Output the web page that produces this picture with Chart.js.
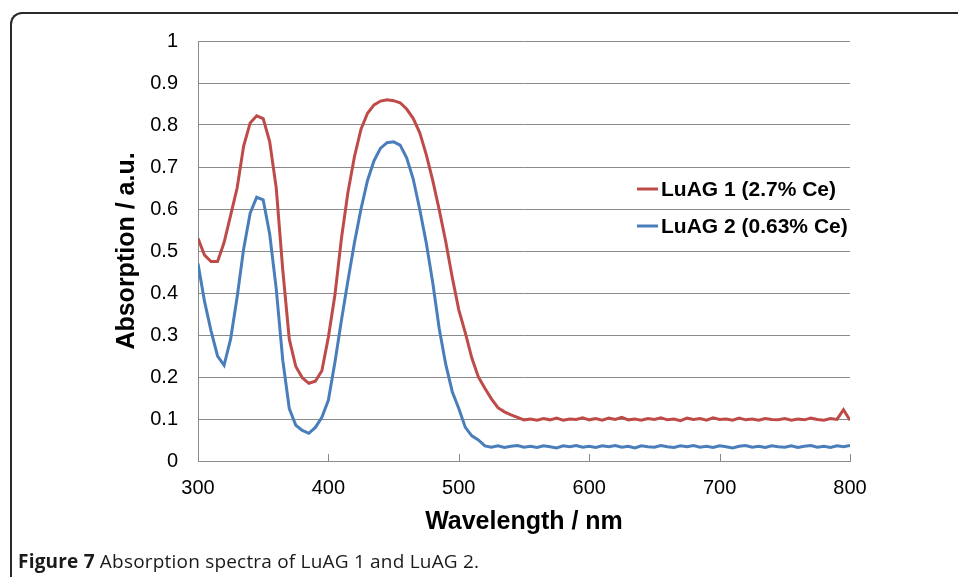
<!DOCTYPE html>
<html lang="en">
<head>
    <meta charset="UTF-8">
    <title>Absorption spectra of LuAG 1 and LuAG 2</title>
    <script src="https://cdn.jsdelivr.net/npm/chart.js"></script>
    <style>
        body {
            margin: 0;
            background: #fff;
            font-family: Arial, "Liberation Sans", sans-serif;
        }

        #wrap {
            position: relative;
            width: 958px;
            height: 577px;
            overflow: hidden;
        }

        #frame {
            position: absolute;
            left: 10px;
            top: 12px;
            width: 980px;
            height: 600px;
            border-top: 2px solid #2a2a2a;
            border-left: 2px solid #2a2a2a;
            border-top-left-radius: 12px;
        }

        #myChart {
            position: absolute;
            left: 0;
            top: 0;
        }

        #caption {
            position: absolute;
            left: 18px;
            top: 548px;
            font-family: "Open Sans", "Noto Sans", sans-serif;
            font-size: 19px;
            letter-spacing: 0.2px;
            color: #1a1a1a;
            white-space: nowrap;
        }
    </style>
</head>
<body>

    <div id="wrap">
        <div id="frame"></div>
        <canvas id="myChart" width="958" height="577"></canvas>
        <div id="caption"><b>Figure 7</b> Absorption spectra of LuAG 1 and LuAG 2.</div>
    </div>

    <script>
        // wavelength in nm
        const wavelengths = [
            300, 305, 310, 315, 320, 325, 330, 335, 340, 345,
            350, 355, 360, 365, 370, 375, 380, 385, 390, 395,
            400, 405, 410, 415, 420, 425, 430, 435, 440, 445,
            450, 455, 460, 465, 470, 475, 480, 485, 490, 495,
            500, 505, 510, 515, 520, 525, 530, 535, 540, 545,
            550, 555, 560, 565, 570, 575, 580, 585, 590, 595,
            600, 605, 610, 615, 620, 625, 630, 635, 640, 645,
            650, 655, 660, 665, 670, 675, 680, 685, 690, 695,
            700, 705, 710, 715, 720, 725, 730, 735, 740, 745,
            750, 755, 760, 765, 770, 775, 780, 785, 790, 795,
            800
        ];

        // LuAG 1 (2.7% Ce)
        const luag1 = [
            0.53, 0.49, 0.475, 0.475, 0.52, 0.585, 0.65, 0.75, 0.805, 0.822,
            0.815, 0.76, 0.65, 0.455, 0.29, 0.225, 0.198, 0.185, 0.19, 0.215,
            0.295, 0.395, 0.53, 0.64, 0.725, 0.79, 0.828, 0.848, 0.857, 0.86,
            0.858, 0.853, 0.838, 0.816, 0.782, 0.73, 0.668, 0.598, 0.522, 0.437,
            0.36, 0.305, 0.245, 0.2, 0.173, 0.148, 0.127, 0.117, 0.11, 0.104,
            0.098, 0.1, 0.097, 0.101, 0.098, 0.102, 0.097, 0.1, 0.099, 0.103,
            0.098, 0.101, 0.097, 0.102, 0.099, 0.104, 0.098, 0.1, 0.097, 0.101,
            0.099, 0.103, 0.098, 0.1, 0.096, 0.102, 0.099, 0.101, 0.097, 0.103,
            0.099, 0.1, 0.097, 0.102, 0.098, 0.1, 0.097, 0.101, 0.099, 0.098,
            0.101, 0.097, 0.1, 0.098, 0.102, 0.099, 0.097, 0.101, 0.099, 0.122,
            0.097
        ];

        // LuAG 2 (0.63% Ce)
        const luag2 = [
            0.47, 0.38, 0.31, 0.25, 0.228, 0.29, 0.39, 0.505, 0.59, 0.628,
            0.622, 0.54, 0.41, 0.24, 0.125, 0.085, 0.073, 0.066, 0.08, 0.104,
            0.145, 0.235, 0.335, 0.43, 0.52, 0.6, 0.668, 0.715, 0.745, 0.758,
            0.76, 0.752, 0.722, 0.672, 0.6, 0.52, 0.425, 0.315, 0.23, 0.165,
            0.125, 0.08, 0.06, 0.05, 0.036, 0.033, 0.036, 0.032, 0.035, 0.037,
            0.033, 0.035, 0.032, 0.036, 0.034, 0.031, 0.036, 0.034, 0.037, 0.033,
            0.035, 0.032, 0.036, 0.034, 0.037, 0.033, 0.035, 0.031, 0.036, 0.034,
            0.033, 0.037, 0.034, 0.032, 0.036, 0.034, 0.037, 0.033, 0.035, 0.032,
            0.036, 0.034, 0.031, 0.035, 0.037, 0.033, 0.035, 0.032, 0.036, 0.034,
            0.033, 0.036, 0.032, 0.035, 0.037, 0.033, 0.035, 0.032, 0.036, 0.034,
            0.037
        ];

        const seriesNames = ['LuAG 1 (2.7% Ce)', 'LuAG 2 (0.63% Ce)'];
        const seriesColors = ['#BE4B48', '#4A7EBB'];
        const xTicks = [300, 400, 500, 600, 700, 800];

        const gridColor = '#8a8a8a';

        function toPoints(values) {
            return values.map((v, i) => ({ x: wavelengths[i], y: v }));
        }

        // Excel style tick marks pointing up into the plot
        const innerTicks = {
            id: 'innerTicks',
            afterDraw(chart) {
                const ctx = chart.ctx;
                const xs = chart.scales.x;
                const bottom = chart.chartArea.bottom;
                ctx.save();
                ctx.strokeStyle = gridColor;
                ctx.lineWidth = 1;
                xs.ticks.forEach(t => {
                    const px = Math.round(xs.getPixelForValue(t.value)) + 0.5;
                    ctx.beginPath();
                    ctx.moveTo(px, bottom);
                    ctx.lineTo(px, bottom - 7);
                    ctx.stroke();
                });
                ctx.restore();
            }
        };

        // legend drawn inside the plot on the right
        const insideLegend = {
            id: 'insideLegend',
            afterDraw(chart) {
                const ctx = chart.ctx;
                const area = chart.chartArea;
                const x0 = area.right - 213;
                const y0 = area.top + 148;
                ctx.save();
                ctx.font = 'bold 21px Arial, "Liberation Sans", sans-serif';
                ctx.textBaseline = 'middle';
                ctx.textAlign = 'left';
                chart.data.datasets.forEach((ds, i) => {
                    const y = y0 + i * 37;
                    ctx.strokeStyle = ds.borderColor;
                    ctx.lineWidth = 3;
                    ctx.beginPath();
                    ctx.moveTo(x0, y);
                    ctx.lineTo(x0 + 21, y);
                    ctx.stroke();
                    ctx.fillStyle = '#000';
                    ctx.fillText(ds.label, x0 + 24, y + 1);
                });
                ctx.restore();
            }
        };

        const ctx = document.getElementById('myChart').getContext('2d');

        const myChart = new Chart(ctx, {
            type: 'line',
            data: {
                datasets: [
                    {
                        label: seriesNames[0],
                        data: toPoints(luag1),
                        borderColor: seriesColors[0],
                        borderWidth: 3,
                        pointRadius: 0,
                        tension: 0
                    },
                    {
                        label: seriesNames[1],
                        data: toPoints(luag2),
                        borderColor: seriesColors[1],
                        borderWidth: 3,
                        pointRadius: 0,
                        tension: 0
                    }
                ]
            },
            options: {
                responsive: false,
                animation: false,
                layout: {
                    padding: { left: 0, top: 41, right: 108, bottom: 40 }
                },
                plugins: {
                    legend: { display: false },
                    tooltip: { enabled: false }
                },
                scales: {
                    x: {
                        type: 'linear',
                        min: 300,
                        max: 800,
                        afterBuildTicks: (scale) => {
                            scale.ticks = xTicks.map(v => ({ value: v }));
                        },
                        afterFit: (scale) => { scale.height = 76; },
                        grid: { drawOnChartArea: false, drawTicks: false },
                        border: { display: true, color: gridColor, width: 1 },
                        ticks: {
                            padding: 15,
                            color: '#000',
                            font: { family: 'Arial, "Liberation Sans", sans-serif', size: 20 }
                        },
                        title: {
                            display: true,
                            text: 'Wavelength / nm',
                            color: '#000',
                            padding: { top: 0, bottom: 0 },
                            font: { family: 'Arial, "Liberation Sans", sans-serif', size: 25, weight: 'bold' }
                        }
                    },
                    y: {
                        min: 0,
                        max: 1,
                        afterFit: (scale) => { scale.width = 198; },
                        grid: { color: gridColor, lineWidth: 1, drawTicks: false },
                        border: { display: true, color: gridColor, width: 1 },
                        ticks: {
                            stepSize: 0.1,
                            padding: 20,
                            color: '#000',
                            font: { family: 'Arial, "Liberation Sans", sans-serif', size: 20 },
                            callback: (v) => String(+v.toFixed(1))
                        },
                        title: {
                            display: true,
                            text: 'Absorption / a.u.',
                            color: '#000',
                            padding: { top: 112, bottom: 0 },
                            font: { family: 'Arial, "Liberation Sans", sans-serif', size: 25, weight: 'bold' }
                        }
                    }
                }
            },
            plugins: [innerTicks, insideLegend]
        });
    </script>

</body>
</html>
